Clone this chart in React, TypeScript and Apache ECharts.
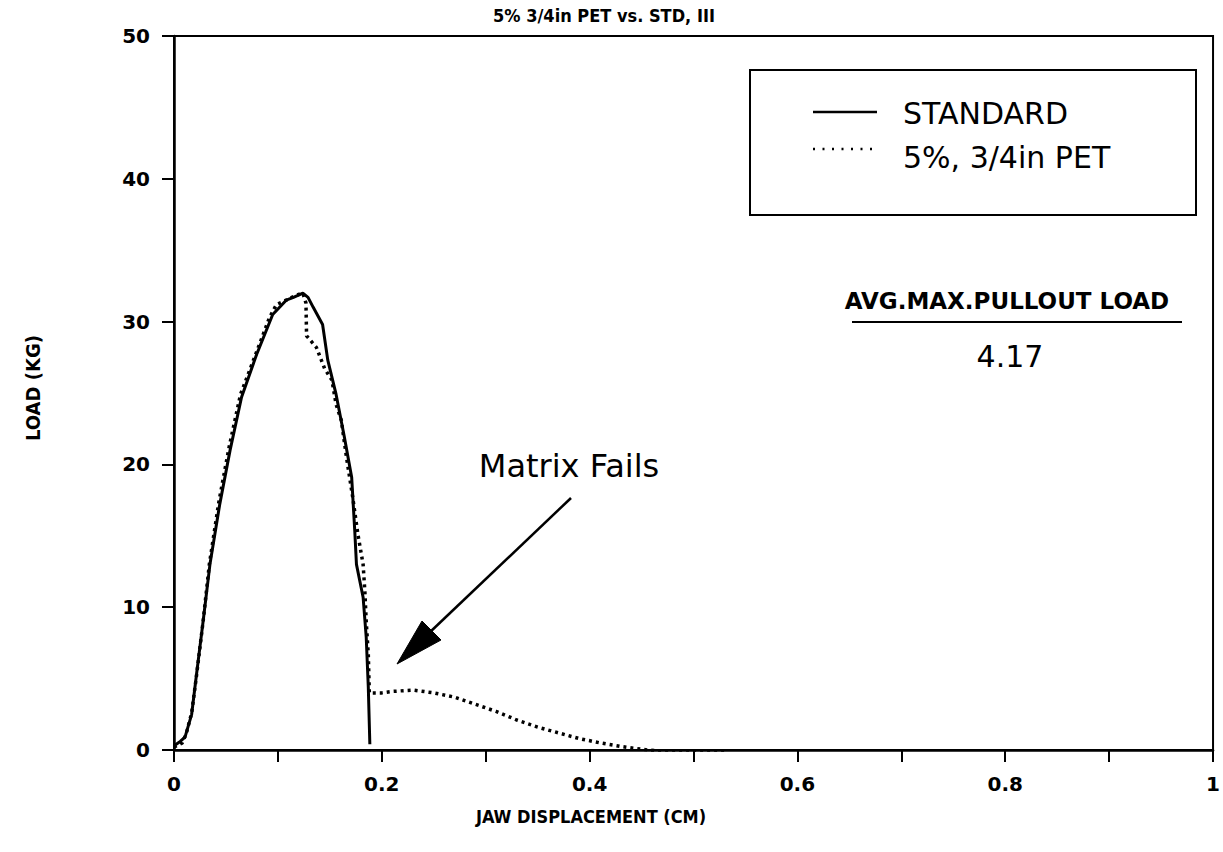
import React, { useEffect, useRef } from "react";
import * as echarts from "echarts";

// JAW DISPLACEMENT (cm) / LOAD (kg)
const standardX = [0, 0.006, 0.0106, 0.017, 0.022, 0.028, 0.0346, 0.044, 0.054, 0.065, 0.0795, 0.095, 0.108, 0.115, 0.124, 0.129, 0.134, 0.143, 0.148, 0.156, 0.164, 0.171, 0.174, 0.1756, 0.182, 0.185, 0.187, 0.1885];
const standardY = [0.3, 0.6, 0.9, 2.5, 5.5, 9.0, 13.0, 17.2, 21.0, 24.7, 27.7, 30.5, 31.5, 31.7, 32.0, 31.7, 31.0, 29.8, 27.3, 24.9, 21.9, 19.1, 15.3, 13.0, 10.7, 7.9, 4.4, 0.4];

const petX = [0, 0.008, 0.012, 0.017, 0.022, 0.028, 0.034, 0.043, 0.053, 0.064, 0.0827, 0.092, 0.0987, 0.108, 0.116, 0.124, 0.127, 0.1276, 0.137, 0.145, 0.152, 0.156, 0.161, 0.166, 0.172, 0.177, 0.182, 0.1837, 0.185, 0.187, 0.188, 0.2, 0.21, 0.23, 0.25, 0.27, 0.29, 0.31, 0.33, 0.35, 0.37, 0.39, 0.41, 0.43, 0.45, 0.47, 0.49, 0.51, 0.53];
const petY = [0.2, 0.5, 1.2, 2.6, 5.4, 9.0, 13.0, 17.3, 21.2, 24.9, 28.5, 30.3, 31.2, 31.5, 31.8, 32.0, 31.3, 29.0, 28.2, 26.7, 25.9, 24.2, 23.1, 20.5, 17.7, 15.1, 13.0, 11.1, 9.0, 6.7, 4.0, 4.0, 4.1, 4.2, 4.0, 3.7, 3.2, 2.7, 2.1, 1.6, 1.2, 0.8, 0.5, 0.25, 0.05, -0.1, -0.15, -0.15, -0.15];

const seriesNames = ["STANDARD", "5%, 3/4in PET"];
const titleText = "5% 3/4in PET vs. STD, III";
const xAxisTitle = "JAW DISPLACEMENT (CM)";
const yAxisTitle = "LOAD (KG)";
const annotationTitle = "AVG.MAX.PULLOUT LOAD";
const annotationValue = "4.17";
const arrowText = "Matrix Fails";

const condFont = "'DejaVu Sans Condensed', 'DejaVu Sans', sans-serif";
const textFont = "'DejaVu Sans', 'Noto Sans', sans-serif";

export default function App() {
  const ref = useRef<HTMLDivElement>(null);
  useEffect(() => {
    document.body.style.margin = "0";
    const chart = echarts.init(ref.current!, null, { renderer: "svg" });
    const std = standardX.map((x, i) => [x, standardY[i]]);
    const pet = petX.map((x, i) => [x, petY[i]]);
    chart.setOption({
      animation: false,
      backgroundColor: "#fff",
      grid: { left: 174, top: 36, width: 1040, height: 714, show: true, borderColor: "#000", borderWidth: 2 },
      xAxis: {
        type: "value", min: 0, max: 1, interval: 0.1,
        axisLine: { show: true, lineStyle: { color: "#000", width: 2.5 } },
        axisTick: { show: true, inside: false, length: 12, lineStyle: { color: "#000", width: 2 } },
        splitLine: { show: false },
        axisLabel: {
          margin: 24, color: "#000", fontSize: 20, fontWeight: "bold", fontFamily: textFont,
          formatter: (v: number) => { const k = Math.round(v * 10); return k % 2 === 0 ? String(k / 10) : ""; },
        },
      },
      yAxis: {
        type: "value", min: 0, max: 50, interval: 10,
        axisLine: { show: true, lineStyle: { color: "#000", width: 2.5 } },
        axisTick: { show: true, inside: false, length: 12, lineStyle: { color: "#000", width: 2 } },
        splitLine: { show: false },
        axisLabel: { margin: 24, color: "#000", fontSize: 20, fontWeight: "bold", fontFamily: textFont },
      },
      series: [
        { name: seriesNames[0], type: "line", data: std, showSymbol: false, symbol: "none", lineStyle: { color: "#000", width: 3 }, z: 3 },
        { name: seriesNames[1], type: "line", data: pet, showSymbol: false, symbol: "none", lineStyle: { color: "#000", width: 3.5, type: [3, 4] }, z: 2 },
      ],
      graphic: [
        { type: "text", x: 604, y: 15, style: { text: titleText, fill: "#000", font: `bold 18px ${condFont}`, align: "center", verticalAlign: "middle" } },
        { type: "text", x: 33, y: 388, rotation: Math.PI / 2, style: { text: yAxisTitle, fill: "#000", font: `bold 20px ${condFont}`, align: "center", verticalAlign: "middle" } },
        { type: "text", x: 591, y: 816, style: { text: xAxisTitle, fill: "#000", font: `bold 18px ${condFont}`, align: "center", verticalAlign: "middle" } },
        { type: "rect", shape: { x: 750, y: 70, width: 446, height: 145 }, style: { fill: "none", stroke: "#000", lineWidth: 2 } },
        { type: "line", shape: { x1: 813, y1: 112, x2: 877, y2: 112 }, style: { stroke: "#000", lineWidth: 2.5 } },
        { type: "line", shape: { x1: 813, y1: 149, x2: 877, y2: 149 }, style: { stroke: "#000", lineWidth: 2.5, lineDash: [2, 7.5] } },
        { type: "text", x: 903, y: 113, style: { text: seriesNames[0], fill: "#000", font: `30px ${textFont}`, align: "left", verticalAlign: "middle" } },
        { type: "text", x: 903, y: 157, style: { text: seriesNames[1], fill: "#000", font: `30px ${textFont}`, align: "left", verticalAlign: "middle" } },
        { type: "text", x: 1007, y: 301, style: { text: annotationTitle, fill: "#000", font: `bold 23px ${textFont}`, align: "center", verticalAlign: "middle" } },
        { type: "line", shape: { x1: 852, y1: 322, x2: 1182, y2: 322 }, style: { stroke: "#000", lineWidth: 2 } },
        { type: "text", x: 1010, y: 356, style: { text: annotationValue, fill: "#000", font: `30px ${textFont}`, align: "center", verticalAlign: "middle" } },
        { type: "text", x: 569, y: 466, style: { text: arrowText, fill: "#000", font: `32px ${textFont}`, align: "center", verticalAlign: "middle" } },
        { type: "line", shape: { x1: 571, y1: 498, x2: 428, y2: 634 }, style: { stroke: "#000", lineWidth: 2.5 } },
        { type: "polygon", shape: { points: [[397, 664], [422, 621], [441, 640]] }, style: { fill: "#000", stroke: "#000", lineWidth: 1 } },
      ],
    });
    return () => chart.dispose();
  }, []);
  return <div ref={ref} style={{ width: 1223, height: 852 }} />;
}
